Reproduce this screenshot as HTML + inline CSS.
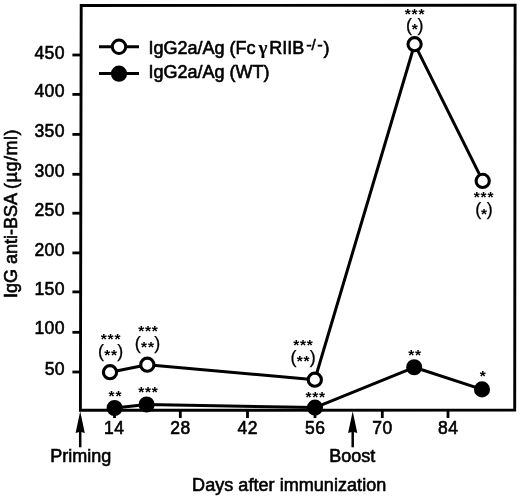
<!DOCTYPE html>
<html><head><meta charset="utf-8">
<style>
html,body{margin:0;padding:0;background:#fff;}
svg{display:block;}
text{font-family:"Liberation Sans",sans-serif;fill:#000;stroke:#000;stroke-width:0.6px;}
.st{font-weight:bold;stroke:none;font-size:15.5px;letter-spacing:0.8px;}
</style></head>
<body>
<svg width="520" height="497" viewBox="0 0 520 497">
<rect x="0" y="0" width="520" height="497" fill="#fff"/>
<polygon points="81.2,5.45 515.1,5.25 514.7,410.15 80.4,410.2" fill="none" stroke="#000" stroke-width="2.9"/>
<g stroke="#000" stroke-width="2.8">
<line x1="72.4" y1="55.0" x2="80.9" y2="55.0"/>
<line x1="72.4" y1="94.4" x2="80.9" y2="94.4"/>
<line x1="72.4" y1="134.4" x2="80.9" y2="134.4"/>
<line x1="72.4" y1="174.3" x2="80.9" y2="174.3"/>
<line x1="72.4" y1="213.2" x2="80.9" y2="213.2"/>
<line x1="72.4" y1="252.9" x2="80.9" y2="252.9"/>
<line x1="72.4" y1="291.9" x2="80.9" y2="291.9"/>
<line x1="72.4" y1="332.3" x2="80.9" y2="332.3"/>
<line x1="72.4" y1="372.0" x2="80.9" y2="372.0"/>
<line x1="114.5" y1="410.0" x2="114.5" y2="418"/>
<line x1="180.3" y1="410.0" x2="180.3" y2="418"/>
<line x1="247.5" y1="410.0" x2="247.5" y2="418"/>
<line x1="315" y1="410.0" x2="315" y2="418"/>
<line x1="382.3" y1="410.0" x2="382.3" y2="418"/>
<line x1="448" y1="410.0" x2="448" y2="418"/>
</g>
<g font-size="17.6" text-anchor="end" letter-spacing="0.4">
<text x="65" y="58.6">450</text>
<text x="65" y="97.2">400</text>
<text x="65" y="136.8">350</text>
<text x="65" y="176.9">300</text>
<text x="65" y="216.3">250</text>
<text x="65" y="256.4">200</text>
<text x="65" y="294.9">150</text>
<text x="65" y="334.4">100</text>
<text x="65" y="375.2">50</text>
</g>
<g font-size="17.5" text-anchor="middle" letter-spacing="0.5">
<text x="114.2" y="434.1">14</text>
<text x="180.5" y="434.1">28</text>
<text x="247.7" y="434.1">42</text>
<text x="315.2" y="434.1">56</text>
<text x="382.5" y="434.1">70</text>
<text x="448.2" y="434.1">84</text>
</g>
<line x1="80.2" y1="447.3" x2="80.2" y2="430" stroke="#000" stroke-width="2.5"/>
<polygon points="80.2,411.2 75.60000000000001,433 80.2,431.8 84.8,433" fill="#000"/>
<line x1="352.7" y1="447.3" x2="352.7" y2="430" stroke="#000" stroke-width="2.5"/>
<polygon points="352.7,411.2 348.09999999999997,433 352.7,431.8 357.3,433" fill="#000"/>
<text x="80.8" y="461.8" font-size="18" text-anchor="middle">Priming</text>
<text x="352.2" y="461.8" font-size="18" text-anchor="middle">Boost</text>
<text x="289.2" y="491" font-size="18" text-anchor="middle" letter-spacing="0.05">Days after immunization</text>
<text transform="translate(16.8,213.5) rotate(-90)" font-size="18" text-anchor="middle">IgG anti-BSA <tspan letter-spacing="0.5">(µg/ml)</tspan></text>
<g stroke="#000" stroke-width="3">
<line x1="99" y1="46.7" x2="139" y2="46.7"/>
<circle cx="119" cy="46.8" r="6.7" fill="#fff"/>
<line x1="99" y1="73.6" x2="139" y2="73.6"/>
<circle cx="119" cy="73.7" r="6.6" fill="#000"/>
</g>
<text x="148.5" y="53.7" font-size="18">IgG2a/Ag (Fc<tspan x="258.6" font-size="19" font-family="Liberation Serif,serif" font-weight="bold" style="stroke-width:0.2px">γ</tspan><tspan x="269.2">RIIB</tspan><tspan x="306.2" y="50.2" font-size="16.5">-</tspan><tspan x="311.4" y="50.4" font-size="15">/</tspan><tspan x="317.3" y="50.2" font-size="16.5">-</tspan><tspan x="323.6" y="53.7">)</tspan></text>
<text x="148.5" y="77.6" font-size="18">IgG2a/Ag (WT)</text>
<g stroke="#000" stroke-width="3" fill="none" stroke-linejoin="round">
<polyline points="110,372.2 147.3,364.7 314.8,379.7 414.6,44.2 482.7,180.9"/>
<polyline points="114.6,408.0 146.6,404.5 315,407.6 414.2,367.3 482,389.4"/>
</g>
<g stroke="#000" stroke-width="3.1">
<circle cx="110" cy="372.2" r="6.6" fill="#fff"/>
<circle cx="147.3" cy="364.7" r="6.6" fill="#fff"/>
<circle cx="314.8" cy="379.7" r="6.6" fill="#fff"/>
<circle cx="414.6" cy="44.2" r="6.6" fill="#fff"/>
<circle cx="482.7" cy="180.9" r="6.6" fill="#fff"/>
<circle cx="114.6" cy="408.0" r="6.5" fill="#000"/>
<circle cx="146.6" cy="404.5" r="6.5" fill="#000"/>
<circle cx="315" cy="407.6" r="6.5" fill="#000"/>
<circle cx="414.2" cy="367.3" r="6.5" fill="#000"/>
<circle cx="482" cy="389.4" r="6.5" fill="#000"/>
</g>
<text class="st" x="111.0" y="343.90000000000003" font-size="18" text-anchor="middle">***</text>
<text x="110.60000000000001" y="356.9" font-size="18" text-anchor="middle" style="stroke-width:0.25px">(<tspan class="st" dx="0.2" dy="3.2">**</tspan><tspan dx="-0.6" dy="-3.2">)</tspan></text>
<text class="st" x="148.4" y="336.1" font-size="18" text-anchor="middle">***</text>
<text x="147.5" y="348.5" font-size="18" text-anchor="middle" style="stroke-width:0.25px">(<tspan class="st" dx="0.2" dy="3.2">**</tspan><tspan dx="-0.6" dy="-3.2">)</tspan></text>
<text class="st" x="303.4" y="349.6" font-size="18" text-anchor="middle">***</text>
<text x="303.2" y="362.8" font-size="18" text-anchor="middle" style="stroke-width:0.25px">(<tspan class="st" dx="0.2" dy="3.2">**</tspan><tspan dx="-0.6" dy="-3.2">)</tspan></text>
<text class="st" x="315.7" y="401.70000000000005" font-size="18" text-anchor="middle">***</text>
<text class="st" x="115.4" y="401.1" font-size="18" text-anchor="middle">**</text>
<text class="st" x="148.4" y="396.6" font-size="18" text-anchor="middle">***</text>
<text class="st" x="415.0" y="18.6" font-size="18" text-anchor="middle">***</text>
<text x="414.7" y="31.2" font-size="18" text-anchor="middle" style="stroke-width:0.25px">(<tspan class="st" dx="-0.3" dy="3.2">*</tspan><tspan dx="-1.1" dy="-3.2">)</tspan></text>
<text class="st" x="484.0" y="202.1" font-size="18" text-anchor="middle">***</text>
<text x="484" y="215.3" font-size="18" text-anchor="middle" style="stroke-width:0.25px">(<tspan class="st" dx="-0.3" dy="3.2">*</tspan><tspan dx="-1.1" dy="-3.2">)</tspan></text>
<text class="st" x="415.0" y="359.6" font-size="18" text-anchor="middle">**</text>
<text class="st" x="483.2" y="381.3" font-size="18" text-anchor="middle">*</text>
</svg>
</body></html>
